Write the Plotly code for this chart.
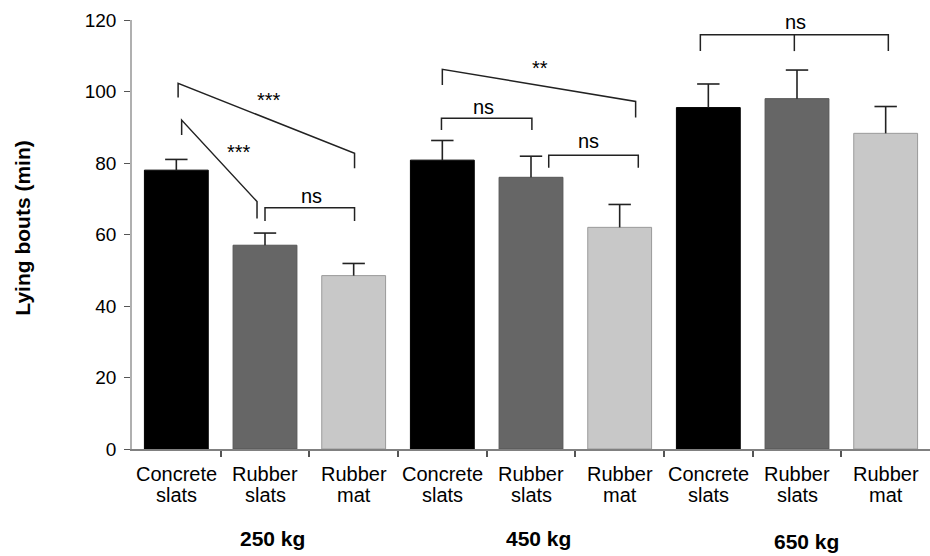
import plotly.graph_objects as go

# ---- data ----
line1 = ["Concrete", "Rubber", "Rubber", "Concrete", "Rubber", "Rubber", "Concrete", "Rubber", "Rubber"]
line2 = ["slats", "slats", "mat", "slats", "slats", "mat", "slats", "slats", "mat"]
groups = ["250 kg", "450 kg", "650 kg"]
means = [78.0, 57.0, 48.5, 80.8, 76.0, 62.0, 95.5, 98.0, 88.3]
se = [3.0, 3.4, 3.4, 5.5, 5.9, 6.4, 6.6, 8.0, 7.5]
yticks = [0, 20, 40, 60, 80, 100, 120]

# significance brackets: (x_left, y_left_top, y_left_leg, x_right, y_right_top, y_right_leg, label, lx, ly)
brackets = [
    (0.02, 102.3, 98.3, 2.01, 82.7, 78.5, "***", 1.04, 97.6),
    (0.06, 92.0, 87.8, 0.91, 69.2, 64.5, "***", 0.71, 83.2),
    (1.00, 67.5, 63.8, 2.01, 67.5, 63.8, "ns", 1.53, 70.9),
    (3.00, 106.2, 101.8, 5.18, 97.2, 92.7, "**", 4.10, 106.5),
    (2.99, 92.5, 89.2, 4.01, 92.5, 89.2, "ns", 3.46, 95.8),
    (4.20, 82.2, 78.7, 5.21, 82.2, 78.7, "ns", 4.65, 86.2),
    (5.91, 115.9, 111.3, 8.03, 115.9, 111.3, "ns", 6.98, 119.5),
]
mid_leg = (6.97, 115.9, 111.3)

# ---- style ----
FONT = "Liberation Sans, Arial, sans-serif"
bar_colors = ["#000000", "#666666", "#c8c8c8"] * 3
edge_colors = ["#000000", "#555555", "#9a9a9a"] * 3
LINE = "#222222"

x = list(range(len(means)))
tops = [m + s for m, s in zip(means, se)]

fig = go.Figure()
fig.add_trace(go.Bar(
    x=x, y=means, width=0.72,
    marker=dict(color=bar_colors, line=dict(color=edge_colors, width=1)),
    error_y=dict(type="data", array=se, arrayminus=[0] * len(se), symmetric=False,
                 color="#222222", thickness=1.6, width=0),
    showlegend=False, hoverinfo="skip",
))
# caps on the top end only
fig.add_trace(go.Scatter(
    x=x, y=tops, mode="markers",
    marker=dict(symbol="line-ew-open", size=16, color="#222222",
                line=dict(color="#222222", width=1.6)),
    showlegend=False, hoverinfo="skip",
))

shapes = []
annotations = []
for (xl, ylt, yll, xr, yrt, yrl, lab, lx, ly) in brackets:
    shapes.append(dict(type="path", xref="x", yref="y",
                       path=f"M {xl} {yll} L {xl} {ylt} L {xr} {yrt} L {xr} {yrl}",
                       line=dict(color=LINE, width=1.5)))
    annotations.append(dict(x=lx, y=ly, xref="x", yref="y", text=lab, showarrow=False,
                            font=dict(family=FONT, size=20, color="#000000"),
                            xanchor="center", yanchor="middle"))
shapes.append(dict(type="line", xref="x", yref="y", x0=mid_leg[0], x1=mid_leg[0],
                   y0=mid_leg[1], y1=mid_leg[2], line=dict(color=LINE, width=1.5)))

# two-line category labels
for i in x:
    annotations.append(dict(x=i, y=0, xref="x", yref="paper", text=line1[i], showarrow=False,
                            font=dict(family=FONT, size=20, color="#000000"),
                            xanchor="center", yanchor="middle", yshift=-25))
    annotations.append(dict(x=i, y=0, xref="x", yref="paper", text=line2[i], showarrow=False,
                            font=dict(family=FONT, size=20, color="#000000"),
                            xanchor="center", yanchor="middle", yshift=-46))

group_x = [1.09, 4.09, 7.11]
group_shift = [-89, -89, -92]
for g, gx, gs in zip(groups, group_x, group_shift):
    annotations.append(dict(x=gx, y=0, xref="x", yref="paper", text=f"<b>{g}</b>", showarrow=False,
                            font=dict(family=FONT, size=21, color="#000000"),
                            xanchor="center", yanchor="middle", yshift=gs))

annotations.append(dict(x=-0.1366, y=0.516, xref="paper", yref="paper",
                        text="<b>Lying bouts (min)</b>", textangle=-90, showarrow=False,
                        font=dict(family=FONT, size=21, color="#000000"),
                        xanchor="center", yanchor="middle"))

fig.update_layout(
    width=930, height=556,
    margin=dict(l=132, r=0, t=20, b=107),
    paper_bgcolor="white", plot_bgcolor="white",
    shapes=shapes, annotations=annotations,
    xaxis=dict(range=[-0.5, 8.5], tickvals=[0.5, 1.5, 2.5, 3.5, 4.5, 5.5, 6.5, 7.5],
               ticktext=[""] * 8, ticks="outside", ticklen=6, tickwidth=1.5, tickcolor="#555555",
               showline=True, linecolor="#808080", linewidth=1.5, showgrid=False, zeroline=False,
               fixedrange=True),
    yaxis=dict(range=[0, 120], tickvals=yticks, ticks="outside", ticklen=6, tickwidth=1.2,
               tickcolor="#555555", showline=True, linecolor="#b0b0b0", linewidth=1.5,
               showgrid=False, zeroline=False, ticklabelstandoff=4,
               tickfont=dict(family=FONT, size=19, color="#000000")),
)

fig.write_html("out.html")
